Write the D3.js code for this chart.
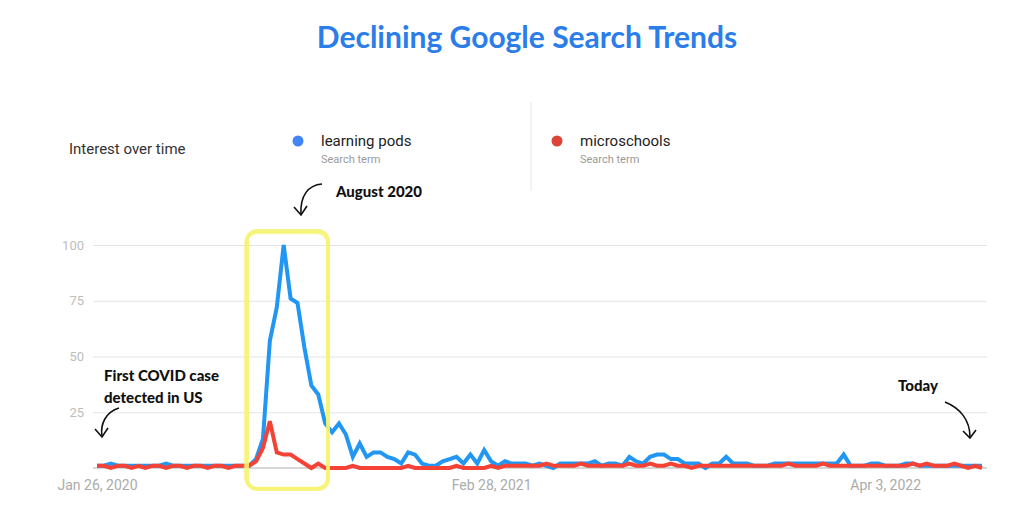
<!DOCTYPE html>
<html>
<head>
<meta charset="utf-8">
<script src="https://cdnjs.cloudflare.com/ajax/libs/d3/7.8.5/d3.min.js"></script>
<style>
  body { margin: 0; background: #fff; }
  svg { display: block; }
</style>
</head>
<body>
<div class="chart"></div>
<script>
const w = 1024;
const h = 511;

// weekly google trends data, first week Jan 26 2020
const startDate = new Date(2020, 0, 26);
const terms = ["learning pods", "microschools"];
const learningPods = [
  1, 1, 2, 1, 1, 1, 1, 1, 1, 1, 2, 1, 1, 1, 1, 1, 1, 1, 1, 1,
  1, 1, 1, 4, 13, 57, 72, 100, 76, 74, 54, 37, 33, 20, 16, 20, 15, 5, 11, 5,
  7, 7, 5, 4, 2, 7, 6, 2, 1, 1, 3, 4, 5, 2, 6, 2, 8, 3, 1, 3,
  2, 2, 2, 1, 2, 1, 0, 2, 2, 2, 2, 2, 3, 1, 2, 2, 1, 5, 3, 2,
  5, 6, 6, 4, 4, 2, 2, 2, 0, 2, 2, 5, 2, 2, 2, 1, 1, 1, 2, 2,
  2, 2, 2, 2, 2, 2, 2, 2, 6, 1, 1, 1, 2, 2, 1, 1, 1, 2, 2, 1,
  1, 1, 1, 1, 1, 1, 1, 1, 1
];
const microschools = [
  1, 1, 0, 1, 1, 0, 1, 0, 1, 1, 0, 1, 1, 0, 1, 1, 0, 1, 1, 0,
  1, 1, 1, 3, 9, 21, 7, 6, 6, 4, 2, 0, 2, 0, 0, 0, 0, 1, 0, 0,
  0, 0, 0, 0, 0, 1, 0, 0, 0, 0, 0, 0, 1, 0, 0, 0, 0, 1, 0, 1,
  1, 1, 1, 1, 1, 2, 1, 1, 1, 1, 2, 1, 1, 1, 1, 1, 1, 2, 1, 1,
  2, 1, 1, 2, 1, 1, 0, 1, 1, 1, 1, 1, 1, 1, 1, 1, 1, 1, 1, 1,
  2, 1, 1, 1, 1, 2, 1, 1, 1, 1, 1, 1, 1, 1, 1, 1, 1, 1, 2, 1,
  2, 1, 1, 1, 2, 1, 0, 1, 0
];
const xTickDates = [new Date(2020, 0, 26), new Date(2021, 1, 28), new Date(2022, 3, 3)];
const yTicks = [25, 50, 75, 100];
const colors = ["#2196f3", "#f44336"];
const dotColors = ["#4285f4", "#db4437"];

const dates = learningPods.map((d, i) => d3.timeWeek.offset(startDate, i));

const svg = d3
  .select(".chart")
  .append("svg")
  .attr("width", w)
  .attr("height", h);

//scales
const xScale = d3
  .scaleTime()
  .domain([dates[0], dates[dates.length - 1]])
  .range([97, 982]);

const yScale = d3.scaleLinear().domain([0, 100]).range([468, 245]);

// title
svg
  .append("text")
  .attr("x", 527)
  .attr("y", 48)
  .attr("text-anchor", "middle")
  .style("font-family", "Lato")
  .style("font-weight", 700)
  .style("font-size", "30px")
  .style("fill", "#2b7de9")
  .text("Declining Google Search Trends");

// legend header
svg
  .append("text")
  .attr("x", 69)
  .attr("y", 154)
  .style("font-family", "Roboto")
  .style("font-size", "15px")
  .style("fill", "#333")
  .text("Interest over time");

const legend = svg
  .selectAll(".legend")
  .data(terms)
  .enter()
  .append("g")
  .attr("class", "legend")
  .attr("transform", (d, i) => `translate(${i === 0 ? 298 : 557}, 0)`);

legend
  .append("circle")
  .attr("cx", 0)
  .attr("cy", 141)
  .attr("r", 5.5)
  .attr("fill", (d, i) => dotColors[i]);

legend
  .append("text")
  .attr("x", 23)
  .attr("y", 146)
  .style("font-family", "Roboto")
  .style("font-size", "15px")
  .style("fill", "#222")
  .text((d) => d);

legend
  .append("text")
  .attr("x", 23)
  .attr("y", 163)
  .style("font-family", "Roboto")
  .style("font-size", "11px")
  .style("fill", "#9a9a9a")
  .text("Search term");

svg
  .append("line")
  .attr("x1", 531)
  .attr("x2", 531)
  .attr("y1", 102)
  .attr("y2", 191)
  .attr("stroke", "#e6e6e6");

// axes
const yAxis = d3
  .axisLeft(yScale)
  .tickValues(yTicks)
  .tickSize(-(987 - 93))
  .tickPadding(9);

const yG = svg
  .append("g")
  .attr("transform", "translate(93,0)")
  .call(yAxis);
yG.select(".domain").remove();
yG.selectAll(".tick line").attr("stroke", "#e4e4e4");
yG.selectAll(".tick text")
  .style("font-family", "Roboto")
  .style("font-size", "13px")
  .style("fill", "#bdbdbd");

svg
  .append("line")
  .attr("x1", 93)
  .attr("x2", 987)
  .attr("y1", yScale(0))
  .attr("y2", yScale(0))
  .attr("stroke", "#c8c8c8")
  .attr("stroke-width", 1.5);

const xAxis = d3
  .axisBottom(xScale)
  .tickValues(xTickDates)
  .tickFormat(d3.timeFormat("%b %-d, %Y"))
  .tickSize(0)
  .tickPadding(12);

const xG = svg
  .append("g")
  .attr("transform", `translate(0, ${yScale(0)})`)
  .call(xAxis);
xG.select(".domain").remove();
xG.selectAll(".tick text")
  .style("font-family", "Roboto")
  .style("font-size", "14px")
  .style("fill", "#ababab");

// lines, blue first so red sits on top along the bottom
const line = d3
  .line()
  .x((d, i) => xScale(dates[i]))
  .y((d) => yScale(d));

[learningPods, microschools].forEach((series, k) => {
  svg
    .append("path")
    .datum(series)
    .attr("fill", "none")
    .attr("stroke", colors[k])
    .attr("stroke-width", 4)
    .attr("d", line);
});

// yellow highlight box round August 2020
const hl = svg.append("g").attr("fill", "none").attr("stroke", "#f6f36b");
hl.append("rect")
  .attr("x", 247)
  .attr("y", 231)
  .attr("width", 81)
  .attr("height", 258)
  .attr("rx", 10)
  .attr("stroke-width", 4)
  .attr("opacity", 0.85);
hl.append("rect")
  .attr("x", 245)
  .attr("y", 233)
  .attr("width", 83)
  .attr("height", 255)
  .attr("rx", 12)
  .attr("stroke-width", 2.5)
  .attr("opacity", 0.6);

// annotations
const notes = [
  { text: ["August 2020"], x: 336, y: 197 },
  { text: ["First COVID case", "detected in US"], x: 104, y: 381 },
  { text: ["Today"], x: 898, y: 391 }
];

notes.forEach((n) => {
  n.text.forEach((t, i) => {
    svg
      .append("text")
      .attr("x", n.x)
      .attr("y", n.y + i * 22)
      .style("font-family", "Lato")
      .style("font-weight", 900)
      .style("font-size", "15px")
      .style("fill", "#111")
      .text(t);
  });
});

const arrows = [
  { d: "M322,184 C308,185 300,196 301,214", head: "M294,207 L301,215 L307,206" },
  { d: "M119,408 C106,412 100,424 102,436", head: "M95,429 L102,437 L108,428" },
  { d: "M945,402 C960,408 970,420 970,437", head: "M963,431 L970,438 L976,430" }
];

arrows.forEach((a) => {
  svg
    .append("path")
    .attr("d", a.d)
    .attr("fill", "none")
    .attr("stroke", "#111")
    .attr("stroke-width", 1.6);
  svg
    .append("path")
    .attr("d", a.head)
    .attr("fill", "none")
    .attr("stroke", "#111")
    .attr("stroke-width", 1.6);
});
</script>
</body>
</html>
